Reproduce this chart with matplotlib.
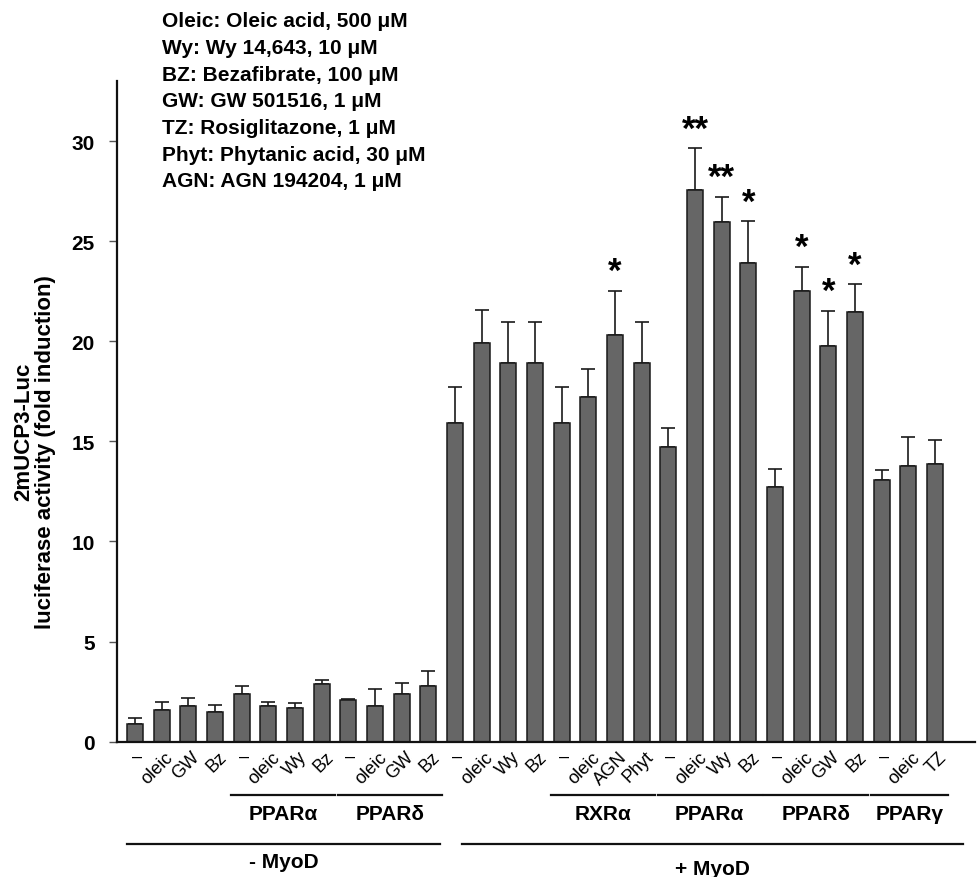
import matplotlib
matplotlib.use('Agg')
import matplotlib.pyplot as plt
import matplotlib.transforms as mtransforms
import numpy as np

plt.rcParams['font.family'] = ['Liberation Sans', 'DejaVu Sans']

# ---------------- data ----------------
treatments = ['–', 'oleic', 'GW', 'Bz',
              '–', 'oleic', 'Wy', 'Bz',
              '–', 'oleic', 'GW', 'Bz',
              '–', 'oleic', 'Wy', 'Bz',
              '–', 'oleic', 'AGN', 'Phyt',
              '–', 'oleic', 'Wy', 'Bz',
              '–', 'oleic', 'GW', 'Bz',
              '–', 'oleic', 'TZ']
values = [0.88, 1.60, 1.77, 1.47,
          2.37, 1.77, 1.68, 2.88,
          2.10, 1.77, 2.37, 2.77,
          15.93, 19.92, 18.93, 18.93,
          15.93, 17.20, 20.32, 18.93,
          14.70, 27.56, 25.95, 23.93,
          12.70, 22.53, 19.77, 21.47,
          13.05, 13.75, 13.85]
errors = [0.29, 0.38, 0.43, 0.36,
          0.43, 0.23, 0.24, 0.22,
          0.05, 0.85, 0.56, 0.76,
          1.77, 1.63, 2.05, 2.05,
          1.77, 1.42, 2.20, 2.05,
          0.97, 2.07, 1.25, 2.07,
          0.93, 1.20, 1.76, 1.38,
          0.53, 1.48, 1.22]
sig_index = [18, 21, 22, 23, 25, 26, 27]
sig_marks = ['*', '**', '**', '*', '*', '*', '*']

receptor_names = ['PPARα', 'PPARδ', 'RXRα', 'PPARα', 'PPARδ', 'PPARγ']
receptor_first = [4, 8, 16, 20, 24, 28]
receptor_last = [7, 11, 19, 23, 27, 30]

myod_names = ['- MyoD', '+ MyoD']
myod_first = [0, 12]
myod_last = [11, 30]

legend_lines = ['Oleic: Oleic acid, 500 μM',
                'Wy: Wy 14,643, 10 μM',
                'BZ: Bezafibrate, 100 μM',
                'GW: GW 501516, 1 μM',
                'TZ: Rosiglitazone, 1 μM',
                'Phyt: Phytanic acid, 30 μM',
                'AGN: AGN 194204, 1 μM']
yticks = [0, 5, 10, 15, 20, 25, 30]
ylabel_lines = ['2mUCP3-Luc', 'luciferase activity (fold induction)']

# ---------------- figure ----------------
W, H = 980, 878
fig = plt.figure(figsize=(W / 100, H / 100), dpi=100)
ax = fig.add_axes([117 / W, 1 - 742.7 / H, (975 - 117) / W, (742.7 - 82) / H])

x = np.arange(len(values))
ax.errorbar(x, values, yerr=[np.zeros(len(values)), errors], fmt='none',
            ecolor='#1a1a1a', elinewidth=1.2, capsize=4.8, capthick=1.2, zorder=1)
ax.bar(x, values, width=0.59, color='#666666', edgecolor='#1a1a1a',
       linewidth=1.1, zorder=2)

ax.set_xlim(-0.675, 31.5)
ax.set_ylim(0, 33)
for s in ['top', 'right']:
    ax.spines[s].set_visible(False)
for s in ['left', 'bottom']:
    ax.spines[s].set_linewidth(1.6)
    ax.spines[s].set_color('#111111')

ax.set_yticks(yticks)
ax.set_yticklabels([str(t) for t in yticks], fontsize=15, fontweight='bold')
ax.tick_params(axis='y', length=6, width=1.0, pad=10, direction='out', color='#555555')
ax.set_xticks([])

# significance marks
for i, m in zip(sig_index, sig_marks):
    ax.annotate(m, (x[i], values[i] + errors[i]), xytext=(0, 2),
                textcoords='offset points', ha='center', va='bottom',
                fontsize=25, fontweight='bold')

# x treatment labels
fy = mtransforms.blended_transform_factory(ax.transData, fig.transFigure)
shift = mtransforms.ScaledTranslation(3 / 100, 0, fig.dpi_scale_trans)
for xi, lab in zip(x, treatments):
    if lab == '–':
        ax.text(xi, 1 - 757 / H, lab, transform=fy + mtransforms.ScaledTranslation(2 / 100, 0, fig.dpi_scale_trans),
                ha='center', va='center', fontsize=13)
    else:
        ax.text(xi, 1 - 749 / H, lab, transform=fy + shift, rotation=45,
                rotation_mode='anchor', ha='right', va='top', fontsize=13)

# receptor group lines
for name, a, b in zip(receptor_names, receptor_first, receptor_last):
    ax.plot([a - 0.4, b + 0.5], [1 - 795.7 / H] * 2, transform=fy,
            color='#111111', lw=1.6, clip_on=False)
    ax.text((a - 0.4 + b + 0.5) / 2, 1 - 815 / H, name, transform=fy,
            ha='center', va='center', fontsize=15, fontweight='bold')

# MyoD lines
myod_pad = [(-0.3, 0.44), (0.25, 1.06)]
myod_label_y = [863, 870]
for name, a, b, (pa, pb), ly in zip(myod_names, myod_first, myod_last, myod_pad, myod_label_y):
    ax.plot([a + pa, b + pb], [1 - 845 / H] * 2, transform=fy,
            color='#111111', lw=1.6, clip_on=False)
    ax.text((a + pa + b + pb) / 2, 1 - ly / H, name, transform=fy,
            ha='center', va='center', fontsize=15, fontweight='bold')

# y label
fig.text(24 / W, 1 - 432 / H, ylabel_lines[0], rotation=90, ha='center', va='center',
         fontsize=16, fontweight='bold')
fig.text(45 / W, 1 - 452 / H, ylabel_lines[1], rotation=90, ha='center', va='center',
         fontsize=16, fontweight='bold')

# abbreviation legend
for k, line in enumerate(legend_lines):
    fig.text(161.7 / W, 1 - (21.7 + k * 26.7) / H, line, ha='left', va='center',
             fontsize=15, fontweight='bold')

fig.savefig('out.png', dpi=100)
